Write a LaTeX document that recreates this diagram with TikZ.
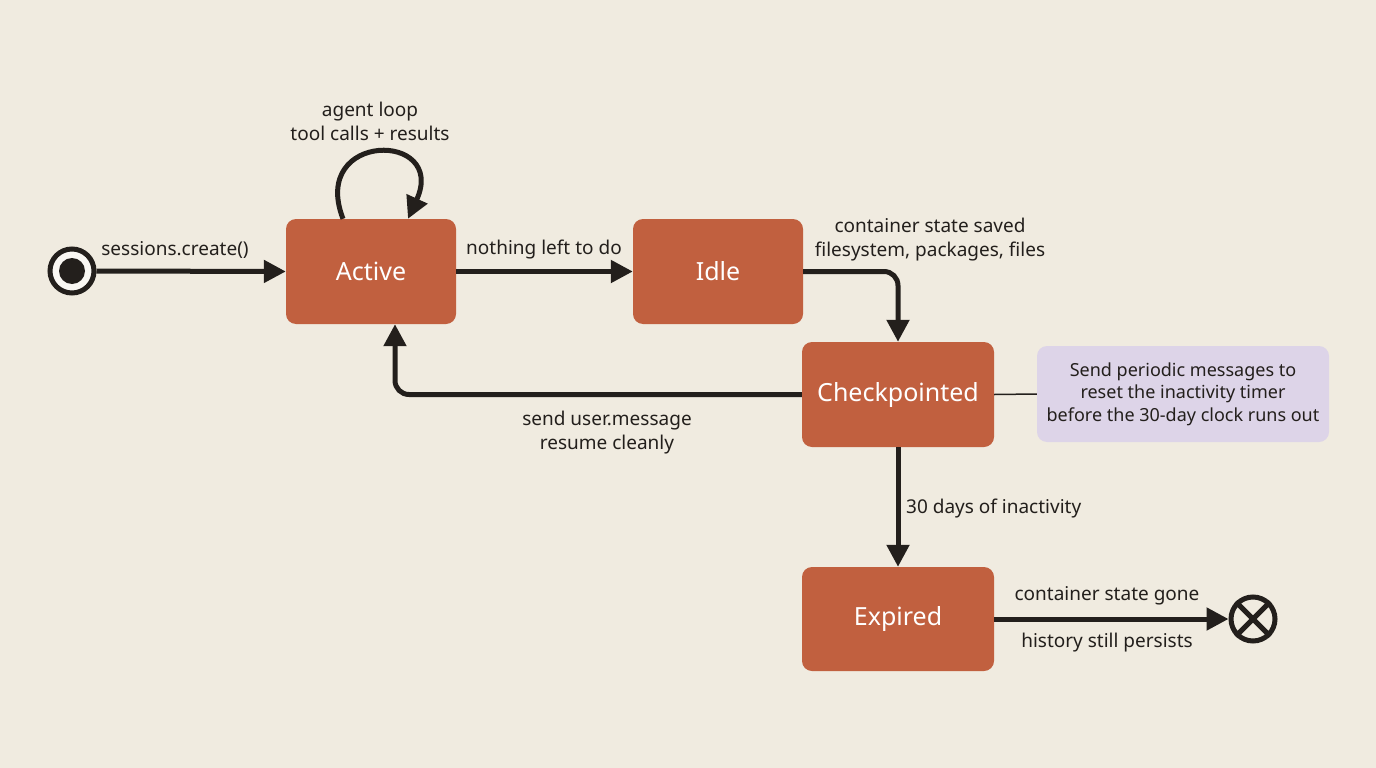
\documentclass[tikz,border=0pt]{standalone}
\usepackage{fontspec}
\setmainfont{Noto Sans}
\usetikzlibrary{arrows.meta}
\definecolor{bg}{HTML}{F0EBE0}
\definecolor{st}{HTML}{C1603F}
\definecolor{ink}{HTML}{231F1C}
\definecolor{notefill}{HTML}{DDD4E8}
\begin{document}
\begin{tikzpicture}[x=1pt,y=-1pt,
 state/.style={rectangle,rounded corners=10pt,fill=st,text=white,minimum width=170pt,minimum height=105pt,font=\fontsize{25}{30}\selectfont,inner sep=0pt},
 lbl/.style={font=\fontsize{19}{24}\selectfont,text=ink,align=center,inner sep=1pt},
 arr/.style={draw=ink,line width=5pt,-{Triangle[length=22pt,width=22pt]}},
 notebox/.style={rectangle,rounded corners=10pt,fill=notefill,text=ink,minimum width=292pt,minimum height=96pt,align=center,font=\fontsize{18}{22.5}\selectfont,inner sep=0pt},
]
\fill[bg] (0,0) rectangle (1376,768);
\useasboundingbox (0,0) rectangle (1376,768);

\node[state] (active) at (371,271.5) {Active};
\node[state] (idle) at (718,271.5) {Idle};
\node[state,minimum width=192pt] (chk) at (898,394.5) {Checkpointed};
\node[state,minimum width=192pt,minimum height=104pt] (exp) at (898,619) {Expired};
\node[notebox] (note) at (1183,394) {Send periodic messages to\\reset the inactivity timer\\before the 30-day clock runs out};

\node[circle,draw=ink,line width=5pt,fill=white!60!bg,minimum size=44pt,inner sep=0pt] (init) at (72,271) {};
\fill[ink] (init.center) circle (13pt);
\node[circle,draw=ink,line width=5pt,minimum size=44pt,inner sep=0pt] (fin) at (1253,619) {};
\draw[ink,line width=5pt] (fin.north west) -- (fin.south east);
\draw[ink,line width=5pt] (fin.north east) -- (fin.south west);

\draw[arr] (init.east) -- (active.west);
\draw[arr] (active.east) -- (idle.west);
\draw[arr,rounded corners=14pt] (idle.east) -| (chk.north);
\draw[arr,rounded corners=14pt] (chk.west) -| ([xshift=24pt]active.south);
\draw[arr] (chk.south) -- (exp.north);
\draw[arr] (exp.east) -- (fin.west);
\draw[ink,line width=1.5pt] (chk.east) -- (note.west);
\draw[arr] ([xshift=-28pt]active.north) .. controls +(-34,-88) and +(40,-88) .. ([xshift=37pt]active.north);

\node[lbl] (l1) at (175,250) {sessions.create()};
\node[lbl] (l2) at (544,250) {nothing left to do};
\node[lbl] (l3) at (930,240) {container state saved\\filesystem, packages, files};
\node[lbl] (l4) at (607,433) {send user.message\\resume cleanly};
\node[lbl,anchor=west] (l5) at (905,509) {30 days of inactivity};
\node[lbl] (l6) at (1107,596) {container state gone};
\node[lbl] (l7) at (1107,643) {history still persists};
\node[lbl] (l8) at (370,121) {agent loop\\tool calls + results};
\end{tikzpicture}
\end{document}
